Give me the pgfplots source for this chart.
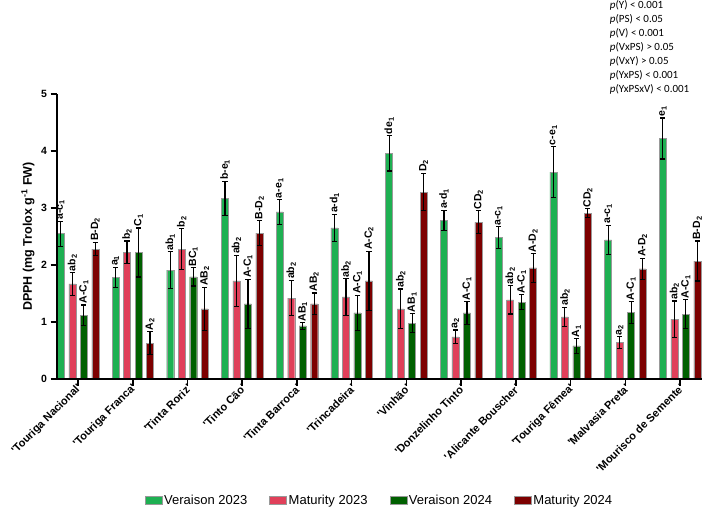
\documentclass[border=0pt]{standalone}
\usepackage{fontspec}
\setmainfont{Liberation Sans}
\newfontfamily\calfont{Carlito}
\usepackage{pgfplots}
\usepackage{pgfplotstable}
\pgfplotsset{compat=1.18}

\definecolor{cVa}{RGB}{30,176,82}
\definecolor{cMa}{RGB}{224,64,90}
\definecolor{cVb}{RGB}{0,96,0}
\definecolor{cMb}{RGB}{125,0,0}

\pgfplotstableread{
g y e lab
0 2.55 0.22 a-c\textsubscript{1}
1 1.78 0.18 a\textsubscript{1}
2 1.91 0.32 ab\textsubscript{1}
3 3.17 0.30 b-e\textsubscript{1}
4 2.93 0.22 a-e\textsubscript{1}
5 2.65 0.24 a-d\textsubscript{1}
6 3.96 0.31 de\textsubscript{1}
7 2.78 0.18 a-d\textsubscript{1}
8 2.48 0.19 a-c\textsubscript{1}
9 3.63 0.45 c-e\textsubscript{1}
10 2.44 0.26 a-c\textsubscript{1}
11 4.22 0.36 e\textsubscript{1}
}\tabVa

\pgfplotstableread{
g y e lab
0 1.67 0.20 ab\textsubscript{2}
1 2.22 0.20 b\textsubscript{2}
2 2.28 0.36 b\textsubscript{2}
3 1.72 0.45 ab\textsubscript{2}
4 1.42 0.31 ab\textsubscript{2}
5 1.44 0.32 ab\textsubscript{2}
6 1.23 0.35 ab\textsubscript{2}
7 0.74 0.12 a\textsubscript{2}
8 1.39 0.25 ab\textsubscript{2}
9 1.09 0.17 ab\textsubscript{2}
10 0.64 0.10 a\textsubscript{2}
11 1.05 0.32 ab\textsubscript{2}
}\tabMa

\pgfplotstableread{
g y e lab
0 1.12 0.18 A-C\textsubscript{1}
1 2.22 0.43 C\textsubscript{1}
2 1.79 0.16 BC\textsubscript{1}
3 1.32 0.43 A-C\textsubscript{1}
4 0.93 0.06 AB\textsubscript{1}
5 1.16 0.31 A-C\textsubscript{1}
6 0.98 0.17 AB\textsubscript{1}
7 1.16 0.20 A-C\textsubscript{1}
8 1.35 0.13 A-C\textsubscript{1}
9 0.58 0.13 A\textsubscript{1}
10 1.17 0.19 A-C\textsubscript{1}
11 1.14 0.25 A-C\textsubscript{1}
}\tabVb

\pgfplotstableread{
g y e lab
0 2.28 0.12 B-D\textsubscript{2}
1 0.63 0.20 A\textsubscript{2}
2 1.23 0.38 AB\textsubscript{2}
3 2.56 0.22 B-D\textsubscript{2}
4 1.32 0.19 AB\textsubscript{2}
5 1.72 0.52 A-C\textsubscript{2}
6 3.28 0.33 D\textsubscript{2}
7 2.75 0.20 CD\textsubscript{2}
8 1.95 0.25 A-D\textsubscript{2}
9 2.91 0.08 CD\textsubscript{2}
10 1.93 0.19 A-D\textsubscript{2}
11 2.07 0.35 B-D\textsubscript{2}
}\tabMb

\pgfplotsset{
  barsty/.style={ybar, fill=#1, draw=black!40, line width=0.4pt,
    error bars/.cd, y dir=both, y explicit,
    error bar style={line width=1.2pt, black},
    error mark options={rotate=90, mark size=2.6pt, line width=1.2pt, black}},
  labsty/.style={only marks, mark=*, mark size=0pt, mark options={draw=none, fill=none},
    forget plot, nodes near coords, point meta=explicit symbolic,
    nodes near coords style={rotate=90, anchor=west, inner sep=1.2pt, black,
      font=\bfseries\fontsize{10.5}{12}\selectfont}},
}

\begin{document}
\begin{tikzpicture}
\begin{axis}[
  scale only axis, width=645pt, height=285pt,
  xmin=-0.384, xmax=11.40, ymin=0, ymax=5,
  bar width=7pt, bar shift=0pt,
  clip=false, axis on top,
  axis x line*=bottom, axis y line*=left,
  axis line style={line width=1.5pt, black},
  tick style={line width=1.5pt, black},
  tick align=outside, major tick length=6.5pt,
  xtick={0,...,11}, ytick={0,1,2,3,4,5},
  xticklabels={{\textquotesingle Touriga Nacional\textquotesingle},{\textquotesingle Touriga Franca\textquotesingle},{\textquotesingle Tinta Roriz\textquotesingle},{\textquotesingle Tinto Cão\textquotesingle},{\textquotesingle Tinta Barroca\textquotesingle},{\textquotesingle Trincadeira\textquotesingle},{\textquotesingle Vinhão\textquotesingle},{\textquotesingle Donzelinho Tinto\textquotesingle},{\textquotesingle Alicante Bouscher\textquotesingle},{\textquotesingle Touriga Fêmea\textquotesingle},{\textquotesingle Malvasia Preta\textquotesingle},{\textquotesingle Mourisco de Semente\textquotesingle}},
  xticklabel style={rotate=45, anchor=east, inner sep=1pt, xshift=2pt, yshift=-2pt, font=\bfseries\fontsize{11}{13}\selectfont},
  yticklabel style={font=\bfseries\fontsize{10.5}{12}\selectfont},
  /pgf/number format/assume math mode=true,
  ylabel={DPPH (mg Trolox g\textsuperscript{-1} FW)},
  every axis y label/.style={at={(rel axis cs:-0.045,0.5)}, rotate=90, anchor=center,
    font=\bfseries\fontsize{12.5}{14}\selectfont},
  legend style={at={(0.5,-0.425)}, anchor=center, draw=none, legend columns=4,
    font=\fontsize{13}{15}\selectfont,
    /tikz/every even column/.append style={column sep=20pt}},
  legend image code/.code={\draw[#1, draw=black!40, line width=0.4pt] (0pt,-4pt) rectangle (17pt,4pt);},
]
\addplot[barsty=cVa] table[x expr=\thisrow{g}-0.315, y=y, y error=e] {\tabVa};
\addplot[barsty=cMa] table[x expr=\thisrow{g}-0.105, y=y, y error=e] {\tabMa};
\addplot[barsty=cVb] table[x expr=\thisrow{g}+0.105, y=y, y error=e] {\tabVb};
\addplot[barsty=cMb] table[x expr=\thisrow{g}+0.315, y=y, y error=e] {\tabMb};
\legend{Veraison 2023, Maturity 2023, Veraison 2024, Maturity 2024}

\addplot[labsty] table[x expr=\thisrow{g}-0.315, y expr=\thisrow{y}+\thisrow{e}, meta=lab] {\tabVa};
\addplot[labsty] table[x expr=\thisrow{g}-0.105, y expr=\thisrow{y}+\thisrow{e}, meta=lab] {\tabMa};
\addplot[labsty] table[x expr=\thisrow{g}+0.105, y expr=\thisrow{y}+\thisrow{e}, meta=lab] {\tabVb};
\addplot[labsty] table[x expr=\thisrow{g}+0.315, y expr=\thisrow{y}+\thisrow{e}, meta=lab] {\tabMb};

\node[anchor=north west, align=left, inner sep=0pt, font=\calfont\fontsize{11}{14}\selectfont]
  at (rel axis cs:0.857,1.328)
  {\textit{p}(Y) < 0.001\\ \textit{p}(PS) < 0.05\\ \textit{p}(V) < 0.001\\ \textit{p}(VxPS) > 0.05\\ \textit{p}(VxY) > 0.05\\ \textit{p}(YxPS) < 0.001\\ \textit{p}(YxPSxV) < 0.001};
\coordinate (O) at (rel axis cs:0,0);
\end{axis}
\pgfresetboundingbox
\path[use as bounding box] ([shift={(-57pt,-134pt)}]O) rectangle ++(708pt,513pt);
\end{tikzpicture}
\end{document}
